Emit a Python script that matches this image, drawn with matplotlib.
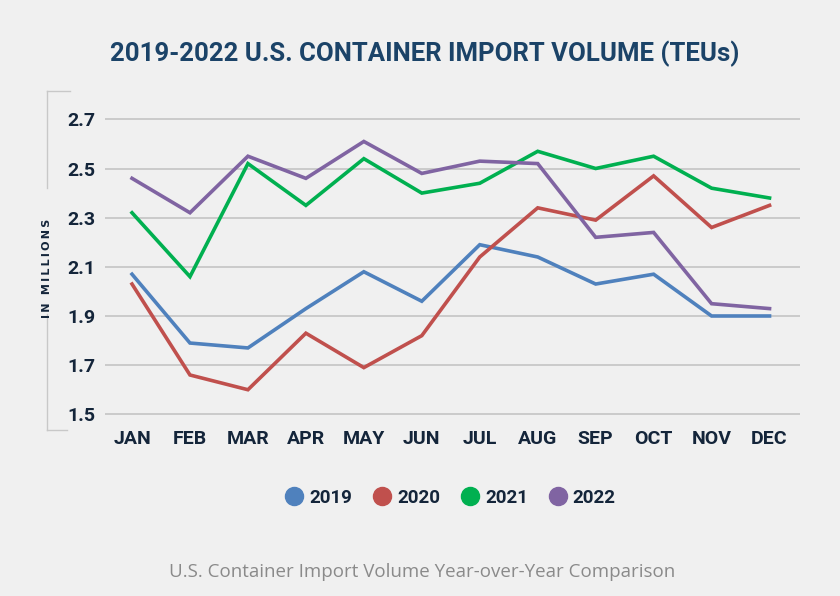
import matplotlib
matplotlib.use("Agg")
import matplotlib.pyplot as plt
from matplotlib.lines import Line2D

# data (millions of TEUs)
months = ["JAN", "FEB", "MAR", "APR", "MAY", "JUN",
          "JUL", "AUG", "SEP", "OCT", "NOV", "DEC"]
v2019 = [2.07, 1.79, 1.77, 1.93, 2.08, 1.96, 2.19, 2.14, 2.03, 2.07, 1.90, 1.90]
v2020 = [2.03, 1.66, 1.60, 1.83, 1.69, 1.82, 2.14, 2.34, 2.29, 2.47, 2.26, 2.35]
v2021 = [2.32, 2.06, 2.52, 2.35, 2.54, 2.40, 2.44, 2.57, 2.50, 2.55, 2.42, 2.38]
v2022 = [2.46, 2.32, 2.55, 2.46, 2.61, 2.48, 2.53, 2.52, 2.22, 2.24, 1.95, 1.93]
years = ["2019", "2020", "2021", "2022"]
colors = ["#4f81bd", "#c0504d", "#00b050", "#8064a2"]
yticks = [1.5, 1.7, 1.9, 2.1, 2.3, 2.5, 2.7]

bg = "#f0f0f0"
navy = "#14253a"
cond = ["Roboto", "DejaVu Sans"]

fig = plt.figure(figsize=(8.4, 5.96), dpi=100, facecolor=bg)
ax = fig.add_axes([0.125, 0.2966, 0.827, 0.5114], facecolor=bg)

x = list(range(len(months)))
for vals, c in zip([v2019, v2020, v2021, v2022], colors):
    ax.plot(x, vals, color=c, lw=2.6, solid_joinstyle="miter", zorder=3)

ax.set_xlim(-0.466, 11.52)
ax.set_ylim(1.48, 2.72)
ax.set_yticks(yticks)
ax.set_yticklabels([f"{t:.1f}" for t in yticks])
ax.set_xticks(x)
ax.set_xticklabels(months)
ax.grid(axis="y", color="#c8c8c8", lw=1.3)
ax.set_axisbelow(True)
for s in ax.spines.values():
    s.set_visible(False)
ax.tick_params(length=0)
ax.tick_params(axis="y", pad=7)
ax.tick_params(axis="x", pad=8)
for lab in ax.get_yticklabels() + ax.get_xticklabels():
    lab.set_fontfamily(cond)
    lab.set_fontweight("bold")
    lab.set_fontsize(14)
    lab.set_color(navy)

fig.text(0.506, 0.91, "2019-2022 U.S. CONTAINER IMPORT VOLUME (TEUs)",
         ha="center", va="center", fontsize=18.5, fontweight="bold",
         color="#1b4368", family=cond)

# y axis unit label with bracket
unit = "\u2009".join("IN") + "\u2009\u2009 " + "\u2009".join("MILLIONS")
fig.text(0.056, 0.55, unit, rotation=90, ha="center", va="center",
         fontsize=8, fontweight="bold", color=navy, family=["DejaVu Sans"])
gray = "#c8c8c8"
def fy(p):
    return 1 - p / 596
def fx(p):
    return p / 840
fig.add_artist(Line2D([fx(47), fx(47)], [fy(91), fy(188)], color=gray, lw=1))
fig.add_artist(Line2D([fx(47), fx(70)], [fy(91), fy(91)], color=gray, lw=1))
fig.add_artist(Line2D([fx(47), fx(47)], [fy(314), fy(430)], color=gray, lw=1))
fig.add_artist(Line2D([fx(47), fx(67)], [fy(430), fy(430)], color=gray, lw=1))

handles = [Line2D([], [], marker="o", ls="", markersize=13, color=c) for c in colors]
leg = fig.legend(handles, years, loc="center", bbox_to_anchor=(0.536, 0.165),
                 ncol=4, frameon=False, handlelength=1.0, handletextpad=0.3,
                 columnspacing=1.1,
                 prop={"family": cond, "weight": "bold", "size": 13.5})
for t in leg.get_texts():
    t.set_color(navy)

fig.text(0.502, 0.04, "U.S. Container Import Volume Year-over-Year Comparison",
         ha="center", va="center", fontsize=13.5, color="#8a8a8a",
         family=["Open Sans", "DejaVu Sans"])

fig.savefig("out.png", dpi=100, facecolor=bg)
